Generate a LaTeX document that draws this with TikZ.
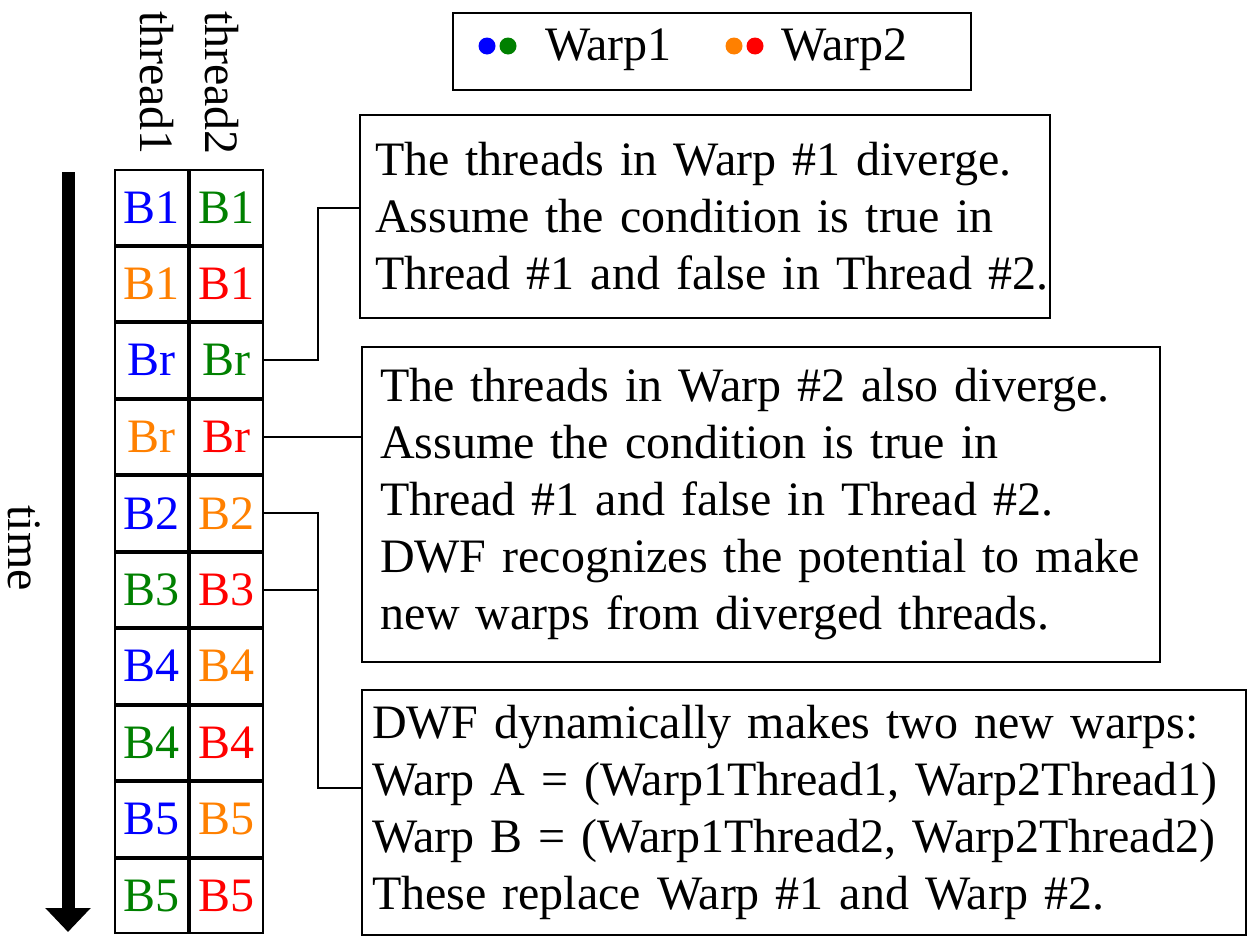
\documentclass[tikz,border=0pt]{standalone}
\usepackage{fontspec}
\setmainfont{Liberation Serif}
\usetikzlibrary{arrows.meta,calc}
\definecolor{wblue}{RGB}{0,0,255}
\definecolor{wgreen}{RGB}{0,128,0}
\definecolor{worange}{RGB}{255,128,0}
\definecolor{wred}{RGB}{255,0,0}
\newcommand{\oneline}[1]{\mbox{#1}}
\tikzset{
  big/.style={font=\fontsize{48}{57}\selectfont},
  cell/.style={big, draw, line width=2pt, minimum width=73pt, minimum height=74.5pt, inner sep=0pt, outer sep=0pt},
  tbox/.style={big, draw, line width=2pt, align=left, anchor=north west, outer sep=0pt},
  conn/.style={line width=2pt},
  dot/.style={circle, inner sep=0pt, minimum size=17pt},
}
\begin{document}
\begin{tikzpicture}[x=1pt,y=-1pt]
\useasboundingbox (0,0) rectangle (1250,937);
% legend
\node[draw, line width=2pt, minimum width=518pt, minimum height=77pt, anchor=north west, outer sep=0pt] (legend) at (453,13) {};
\node[dot, fill=wblue] (d1) at (487,46) {};
\node[dot, fill=wgreen] (d2) at (508,46) {};
\node[big, anchor=west, inner sep=0pt] (w1) at (545,50) {Warp1};
\node[dot, fill=worange] (d3) at (734,46) {};
\node[dot, fill=wred] (d4) at (755,46) {};
\node[big, anchor=west, inner sep=0pt] (w2) at (781,50) {Warp2};
% thread labels
\node[big, rotate=-90, inner sep=0pt] (t1) at (157,83) {thread1};
\node[big, rotate=-90, inner sep=0pt] (t2) at (222,83) {thread2};
\node[big, rotate=-90, inner sep=0pt] (time) at (24,548) {time};
% time arrow
\coordinate (as) at (68,172);
\coordinate (ae) at (68,932);
\draw[line width=13pt, -{Triangle[width=44pt,length=24pt]}] (as) -- (ae);
% grid
\foreach \ca/\a/\cb/\b [count=\i from 0] in {
  B1/wblue/B1/wgreen, B1/worange/B1/wred, Br/wblue/Br/wgreen, Br/worange/Br/wred,
  B2/wblue/B2/worange, B3/wgreen/B3/wred, B4/wblue/B4/worange, B4/wgreen/B4/wred,
  B5/wblue/B5/worange, B5/wgreen/B5/wred}{
  \node[cell, text=\a] (c\i1) at (151.5, 169+38.25+76.5*\i) {\ca};
  \node[cell, text=\b] (c\i2) at (226.5, 169+38.25+76.5*\i) {\cb};
}
% boxes
\node[tbox, text width=660pt, inner xsep=15pt, minimum height=203pt] (box1) at (360,115)
  {\oneline{The threads in Warp \#1 diverge.}\\\oneline{Assume the condition is true in}\\\oneline{Thread \#1 and false in Thread \#2.}};
\node[tbox, text width=762pt, inner xsep=18pt, minimum height=315pt] (box2) at (362,347)
  {\oneline{The threads in Warp \#2 also diverge.}\\\oneline{Assume the condition is true in}\\\oneline{Thread \#1 and false in Thread \#2.}\\\oneline{DWF recognizes the potential to make}\\\oneline{new warps from diverged threads.}};
\node[tbox, text width=864pt, inner xsep=10pt, minimum height=245pt] (box3) at (362,690)
  {\oneline{DWF dynamically makes two new warps:}\\\oneline{Warp A = (Warp1Thread1, Warp2Thread1)}\\\oneline{Warp B = (Warp1Thread2, Warp2Thread2)}\\\oneline{These replace Warp \#1 and Warp \#2.}};
% connectors
\coordinate (j1) at (318,208);
\draw[conn] (c22.east) -| (j1) -- (j1 -| box1.west);
\draw[conn] (c32.east) -- (c32.east -| box2.west);
\coordinate (j2) at (318,788);
\draw[conn] (c42.east) -| (j2) -- (j2 -| box3.west);
\draw[conn] (c52.east) -- (c52.east -| j2);
\end{tikzpicture}
\end{document}
